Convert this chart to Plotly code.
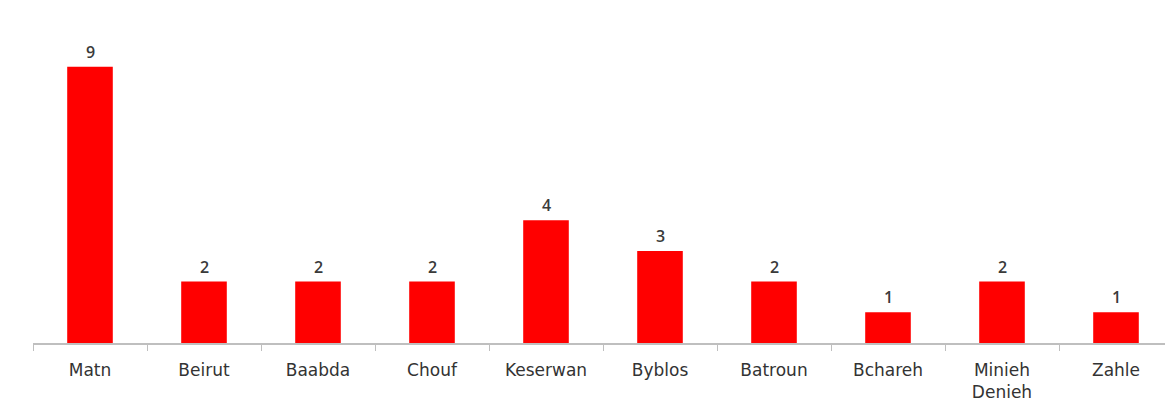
import plotly.graph_objects as go

categories = ["Matn", "Beirut", "Baabda", "Chouf", "Keserwan", "Byblos",
              "Batroun", "Bchareh", "Minieh<br>Denieh", "Zahle"]
values = [9, 2, 2, 2, 4, 3, 2, 1, 2, 1]

fig = go.Figure(go.Bar(
    x=categories, y=values,
    marker=dict(color="#ff0000", line=dict(width=0)),
    width=0.4,
))

for c, v in zip(categories, values):
    fig.add_annotation(x=c, y=v, text=str(v), showarrow=False,
                       yanchor="bottom", yshift=2,
                       font=dict(size=16, color="#3a3a3a", family="Open Sans",
                                 weight=600))

fig.update_layout(
    width=1165, height=395,
    margin=dict(l=25, r=0, t=28, b=60, pad=0),
    paper_bgcolor="white", plot_bgcolor="white",
    showlegend=False,
    font=dict(family="DejaVu Sans", color="#333333"),
    xaxis=dict(
        automargin=False,
        showline=True, linecolor="#bfbfbf", linewidth=1.5,
        ticks="outside", tickson="boundaries", ticklen=6, tickcolor="#bfbfbf",
        tickfont=dict(size=17, color="#333333", family="DejaVu Sans"),
        ticklabelstandoff=11,
        showgrid=False, zeroline=False,
    ),
    yaxis=dict(range=[0, 10], visible=False, showgrid=False, zeroline=False,
               automargin=False),
)

fig.write_html("out.html")
